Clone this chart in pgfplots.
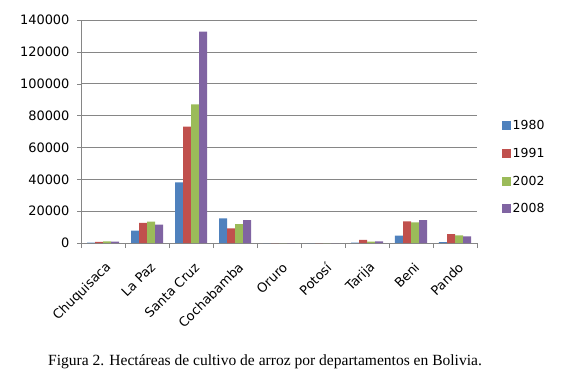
\documentclass[border=0pt]{standalone}
\usepackage{pgfplots}
\pgfplotsset{compat=1.18}
\usepackage{fontspec}
\setmainfont{DejaVu Sans}
\newfontfamily\capfont{Liberation Serif}
\definecolor{cA}{HTML}{4F81BD}
\definecolor{cB}{HTML}{C0504D}
\definecolor{cC}{HTML}{9BBB59}
\definecolor{cD}{HTML}{8064A2}
\definecolor{gridc}{HTML}{868686}
\begin{document}
\begin{tikzpicture}[x=1bp,y=1bp]
\useasboundingbox (0,0) rectangle (563,374);
\begin{axis}[
  at={(81bp,131bp)}, anchor=south west,
  scale only axis, width=396bp, height=223bp,
  ymin=0, ymax=140000, xmin=-0.5, xmax=8.5,
  ytick={0,20000,40000,60000,80000,100000,120000,140000},
  yticklabels={0,20000,40000,60000,80000,100000,120000,140000},
  scaled y ticks=false,
  ybar=0pt, bar width=8bp,
  axis lines*=left,
  axis line style={draw=gridc, -},
  ymajorgrids, grid style={draw=gridc, line width=0.6bp},
  tick align=outside,
  major tick length=4bp, minor tick length=5bp,
  ytick style={draw=gridc},
  xtick={0,...,8},
  major x tick style={draw=none},
  minor xtick={-0.5,0.5,...,8.5},
  minor x tick style={draw=gridc},
  xticklabels={Chuquisaca,La Paz,Santa Cruz,Cochabamba,Oruro,Potosí,Tarija,Beni,Pando},
  xticklabel style={font=\fontsize{13}{15}\selectfont, xshift=6bp, yshift=-18bp, rotate=45, anchor=east, inner sep=0pt},
  yticklabel style={font=\fontsize{13}{15}\selectfont, xshift=-4bp},
  legend style={at={(1.062,0.339)}, anchor=west, draw=none, fill=none,
    font=\fontsize{12.5}{14}\selectfont, row sep=13bp, inner sep=0pt,
    legend cell align=left},
  legend image code/.code={\path[#1,draw=none] (0bp,-4.5bp) rectangle (9bp,4.5bp);},
]
\addplot[fill=cA, draw=none] coordinates {(0,300) (1,7700) (2,38100) (3,15500) (4,0) (5,0) (6,200) (7,4600) (8,600)};
\addplot[fill=cB, draw=none] coordinates {(0,700) (1,12700) (2,73000) (3,9200) (4,0) (5,0) (6,1900) (7,13600) (8,5500)};
\addplot[fill=cC, draw=none] coordinates {(0,1100) (1,13400) (2,87100) (3,11900) (4,0) (5,0) (6,800) (7,13000) (8,4800)};
\addplot[fill=cD, draw=none] coordinates {(0,900) (1,11500) (2,132700) (3,14400) (4,0) (5,0) (6,1100) (7,14400) (8,4200)};
\legend{1980,1991,2002,2008}
\end{axis}
\node[anchor=base, font=\capfont\fontsize{15.6}{18}\selectfont] at (265,9) {Figura 2. Hectáreas de cultivo de arroz por departamentos en Bolivia.};
\end{tikzpicture}
\end{document}
